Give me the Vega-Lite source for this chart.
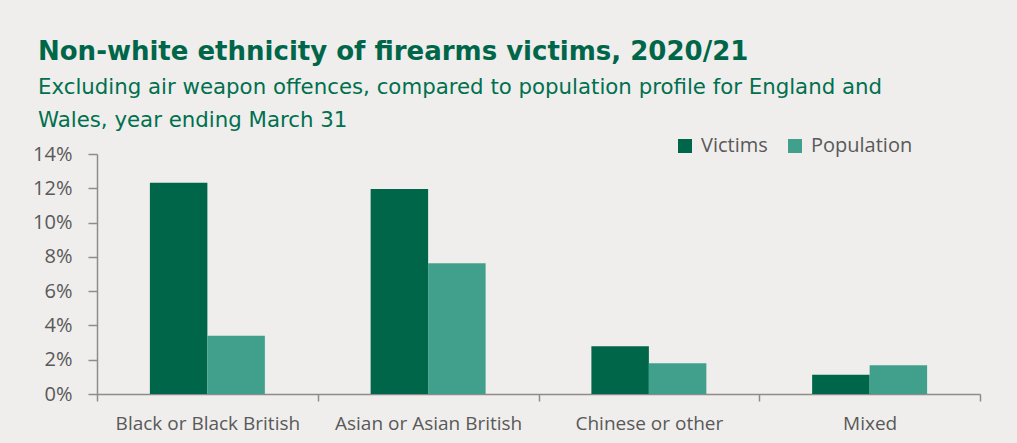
{
  "$schema": "https://vega.github.io/schema/vega-lite/v6.json",
  "width": 883,
  "height": 240,
  "autosize": "none",
  "padding": {"left": 97, "top": 154, "right": 37, "bottom": 49},
  "background": "#efeeec",
  "title": {
    "text": "Non-white ethnicity of firearms victims, 2020/21",
    "subtitle": ["Excluding air weapon offences, compared to population profile for England and", "Wales, year ending March 31"],
    "anchor": "start",
    "frame": "group",
    "dx": -59,
    "offset": 5,
    "font": "DejaVu Sans",
    "fontSize": 26,
    "fontWeight": "bold",
    "color": "#00664a",
    "subtitleFont": "DejaVu Sans",
    "subtitleFontSize": 21.3,
    "subtitleColor": "#00704f",
    "subtitleLineHeight": 33,
    "subtitlePadding": 12
  },
  "data": {
    "values": [
      {"group": "Black or Black British", "series": "Victims", "value": 0.1233},
      {"group": "Black or Black British", "series": "Population", "value": 0.034},
      {"group": "Asian or Asian British", "series": "Victims", "value": 0.1196},
      {"group": "Asian or Asian British", "series": "Population", "value": 0.0762},
      {"group": "Chinese or other", "series": "Victims", "value": 0.0278},
      {"group": "Chinese or other", "series": "Population", "value": 0.018},
      {"group": "Mixed", "series": "Victims", "value": 0.0112},
      {"group": "Mixed", "series": "Population", "value": 0.0167}
    ]
  },
  "mark": {"type": "bar"},
  "encoding": {
    "x": {
      "field": "group",
      "type": "nominal",
      "sort": ["Black or Black British", "Asian or Asian British", "Chinese or other", "Mixed"],
      "scale": {"paddingInner": 0, "paddingOuter": 0},
      "axis": {
        "title": null,
        "labelAngle": 0,
        "labelLimit": 0,
        "tickBand": "extent",
        "domainColor": "#8c8c8c",
        "domainWidth": 1.5,
        "tickColor": "#8c8c8c",
        "tickWidth": 1.5,
        "tickSize": 7,
        "labelFont": "Open Sans",
        "labelFontSize": 19,
        "labelColor": "#595959",
        "labelPadding": 13
      }
    },
    "xOffset": {
      "field": "series",
      "sort": ["Victims", "Population"],
      "scale": {"paddingInner": 0, "paddingOuter": 0.92}
    },
    "y": {
      "field": "value",
      "type": "quantitative",
      "scale": {"domain": [0, 0.14], "nice": false},
      "axis": {
        "title": null,
        "format": "%",
        "values": [0, 0.02, 0.04, 0.06, 0.08, 0.1, 0.12, 0.14],
        "grid": false,
        "domainColor": "#8c8c8c",
        "domainWidth": 1.5,
        "tickColor": "#8c8c8c",
        "tickWidth": 1.5,
        "tickSize": 9,
        "labelFont": "Open Sans",
        "labelFontSize": 20,
        "labelColor": "#595959",
        "labelPadding": 16
      }
    },
    "color": {
      "field": "series",
      "type": "nominal",
      "sort": ["Victims", "Population"],
      "scale": {"domain": ["Victims", "Population"], "range": ["#00664a", "#41a08b"]},
      "legend": {
        "title": null,
        "orient": "none",
        "direction": "horizontal",
        "legendX": 578,
        "legendY": -18,
        "symbolType": "square",
        "symbolSize": 196,
        "symbolStrokeWidth": 0,
        "labelFont": "Open Sans",
        "labelFontSize": 20,
        "labelColor": "#595959",
        "labelOffset": 6,
        "columnPadding": 17
      }
    }
  },
  "config": {"view": {"stroke": null}}
}
